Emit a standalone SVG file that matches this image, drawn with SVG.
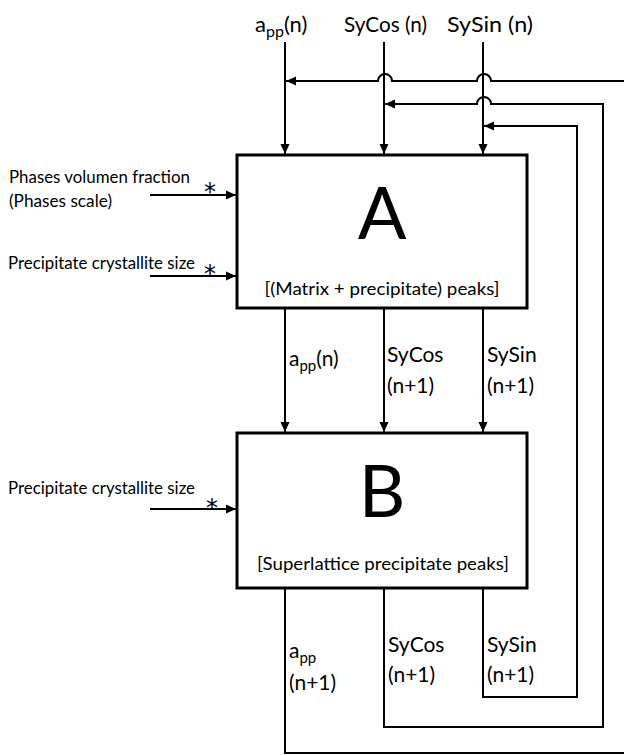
<svg xmlns="http://www.w3.org/2000/svg" width="624" height="755" viewBox="0 0 624 755">
<defs>
<style>
text{font-family:Lato,"Liberation Sans",sans-serif;fill:#000}
.lbl{font-size:21px}
.top{font-size:22px}
.sub{font-size:15px}
.tsub{font-size:16px}
.side{font-size:17.5px}
.big{font-size:72px;text-anchor:middle}
.desc{font-size:18px;text-anchor:middle}
.ast{font-family:"DejaVu Sans",sans-serif;font-size:24px}
.box{fill:#fff;stroke:#000;stroke-width:3}
.ln{fill:none;stroke:#000;stroke-width:2}
.arr{marker-end:url(#ah)}
</style>
<marker id="ah" markerUnits="userSpaceOnUse" markerWidth="10" markerHeight="10" viewBox="0 0 10 10" refX="10" refY="5" orient="auto">
<path d="M0,0.5 L10,5 L0,9.5 Z" fill="#000"/>
</marker>
</defs>
<g id="connectors">
<path class="ln arr" d="M285,42 V154"/>
<path class="ln arr" d="M384,42 V154"/>
<path class="ln arr" d="M483,42 V154"/>
<path class="ln arr" d="M150,195 H236"/>
<path class="ln arr" d="M150,276 H236"/>
<path class="ln arr" d="M150,509 H236"/>
<path class="ln arr" d="M285,309 V432"/>
<path class="ln arr" d="M384,309 V432"/>
<path class="ln arr" d="M483,309 V432"/>
<path class="ln arr" d="M285,589 V753 H627 V81 H491 A7,7 0 0 0 477,81 H392 A7,7 0 0 0 378,81 H286"/>
<path class="ln arr" d="M384,589 V727 H603 V104 H491 A7,7 0 0 0 477,104 H385"/>
<path class="ln arr" d="M483,589 V697 H577 V126 H484"/>
</g>
<g id="labels">
<text class="top" x="255" y="32">a<tspan class="tsub" dy="5">pp</tspan><tspan dy="-5">(n)</tspan></text>
<text class="top" x="344" y="32" textLength="83" lengthAdjust="spacingAndGlyphs">SyCos (n)</text>
<text class="top" x="447" y="32" textLength="86" lengthAdjust="spacingAndGlyphs">SySin (n)</text>
<text class="side" x="9" y="183" textLength="181" lengthAdjust="spacingAndGlyphs">Phases volumen fraction</text>
<text class="side" x="9" y="207" textLength="103" lengthAdjust="spacingAndGlyphs">(Phases scale)</text>
<text class="ast" x="204" y="200">*</text>
<text class="side" x="8" y="269" textLength="187" lengthAdjust="spacingAndGlyphs">Precipitate crystallite size</text>
<text class="ast" x="204" y="282">*</text>
<text class="side" x="8" y="494" textLength="187" lengthAdjust="spacingAndGlyphs">Precipitate crystallite size</text>
<text class="ast" x="206" y="516">*</text>
<text class="lbl" x="289" y="366">a<tspan class="sub" dy="5">pp</tspan><tspan dy="-5">(n)</tspan></text>
<text class="lbl" x="387" y="362">SyCos</text>
<text class="lbl" x="387" y="393">(n+1)</text>
<text class="lbl" x="487" y="362">SySin</text>
<text class="lbl" x="487" y="393">(n+1)</text>
<text class="lbl" x="289" y="658">a<tspan class="sub" dy="5">pp</tspan></text>
<text class="lbl" x="289" y="690">(n+1)</text>
<text class="lbl" x="388" y="652">SyCos</text>
<text class="lbl" x="388" y="682">(n+1)</text>
<text class="lbl" x="487" y="652">SySin</text>
<text class="lbl" x="487" y="682">(n+1)</text>
</g>
<g id="A">
<rect class="box" x="237" y="155" width="290" height="153"/>
<text class="big" x="382" y="239">A</text>
<text class="desc" x="382" y="295" textLength="235" lengthAdjust="spacingAndGlyphs">[(Matrix + precipitate) peaks]</text>
</g>
<g id="B">
<rect class="box" x="237" y="433" width="290" height="155"/>
<text class="big" x="382" y="517">B</text>
<text class="desc" x="383" y="570" textLength="252" lengthAdjust="spacingAndGlyphs">[Superlattice precipitate peaks]</text>
</g>
</svg>
